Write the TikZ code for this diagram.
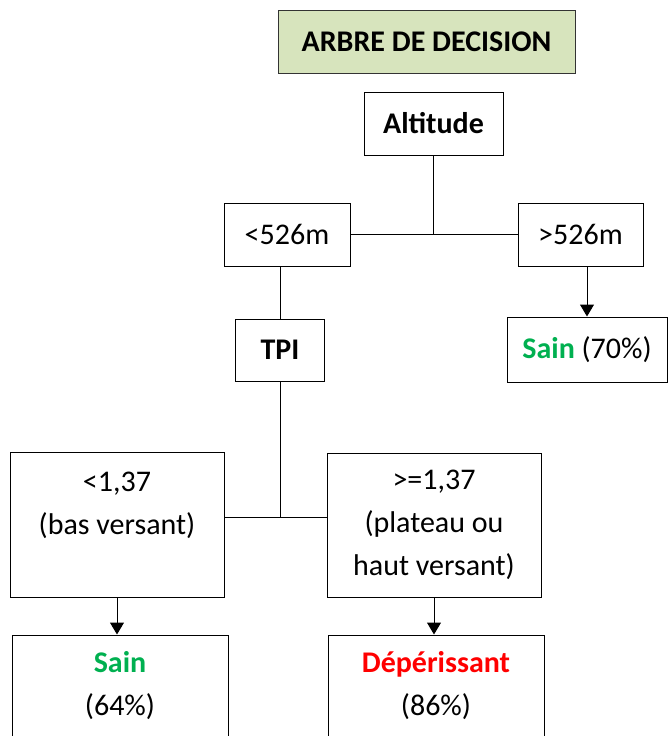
\documentclass[tikz,border=0pt]{standalone}
\usepackage{fontspec}
\setmainfont{Carlito}
\usetikzlibrary{arrows.meta}
\definecolor{titlegreen}{HTML}{D7E4BD}
\definecolor{saingreen}{HTML}{00B050}
\definecolor{deperred}{HTML}{FF0000}
\tikzset{
  box/.style={draw, line width=1pt, align=center, inner sep=0pt},
  arr/.style={-{Triangle[width=14pt,length=12pt]}},
}
\begin{document}
\begin{tikzpicture}[x=1pt,y=-1pt,line width=1pt,font=\fontsize{30}{43}\selectfont]
\clip (0,0) rectangle (668,736);

\node[box,fill=titlegreen,draw=black!80,minimum width=297pt,minimum height=63pt] (titre) at (426.5,41.5) {\bfseries ARBRE DE DECISION};
\node[box,minimum width=139pt,minimum height=63pt] (alt) at (433.5,123.5) {\bfseries Altitude};

\node[box,minimum width=126pt,minimum height=63pt] (lt526) at (287,234.5) {<526m};
\node[box,minimum width=125pt,minimum height=63pt] (gt526) at (580.5,234.5) {>526m};
\coordinate (j1) at (433.5,234.5);

\node[box,minimum width=89pt,minimum height=62pt] (tpi) at (280,350) {\bfseries TPI};
\node[box,minimum width=160pt,minimum height=65pt] (sain1) at (587,349.5) {\textcolor{saingreen}{\bfseries Sain} (70\%)};

\node[box,minimum width=214pt,minimum height=145pt] (lo) at (117,524.5) {<1,37\\(bas versant)\\ ~};
\node[box,minimum width=214pt,minimum height=144pt] (hi) at (434,525) {>=1,37\\(plateau ou\\haut versant)};
\coordinate (j2) at (280,517);

\node[box,minimum width=216pt,minimum height=102pt] (sain2) at (120,686) {\textcolor{saingreen}{\bfseries Sain}\\(64\%)};
\node[box,minimum width=216pt,minimum height=102pt] (deper) at (436,686) {\textcolor{deperred}{\bfseries Dépérissant}\\(86\%)};

\draw (alt.south) -- (j1);
\draw (lt526.east) -- (gt526.west);
\draw[arr] (sain1.north |- gt526.south) -- (sain1.north);
\draw (tpi.north) -- (tpi.north |- lt526.south);
\draw (tpi.south) -- (j2);
\draw (lo.east |- j2) -- (hi.west |- j2);
\draw[arr] (lo.south) -- (lo.south |- sain2.north);
\draw[arr] (hi.south) -- (hi.south |- deper.north);
\end{tikzpicture}
\end{document}
